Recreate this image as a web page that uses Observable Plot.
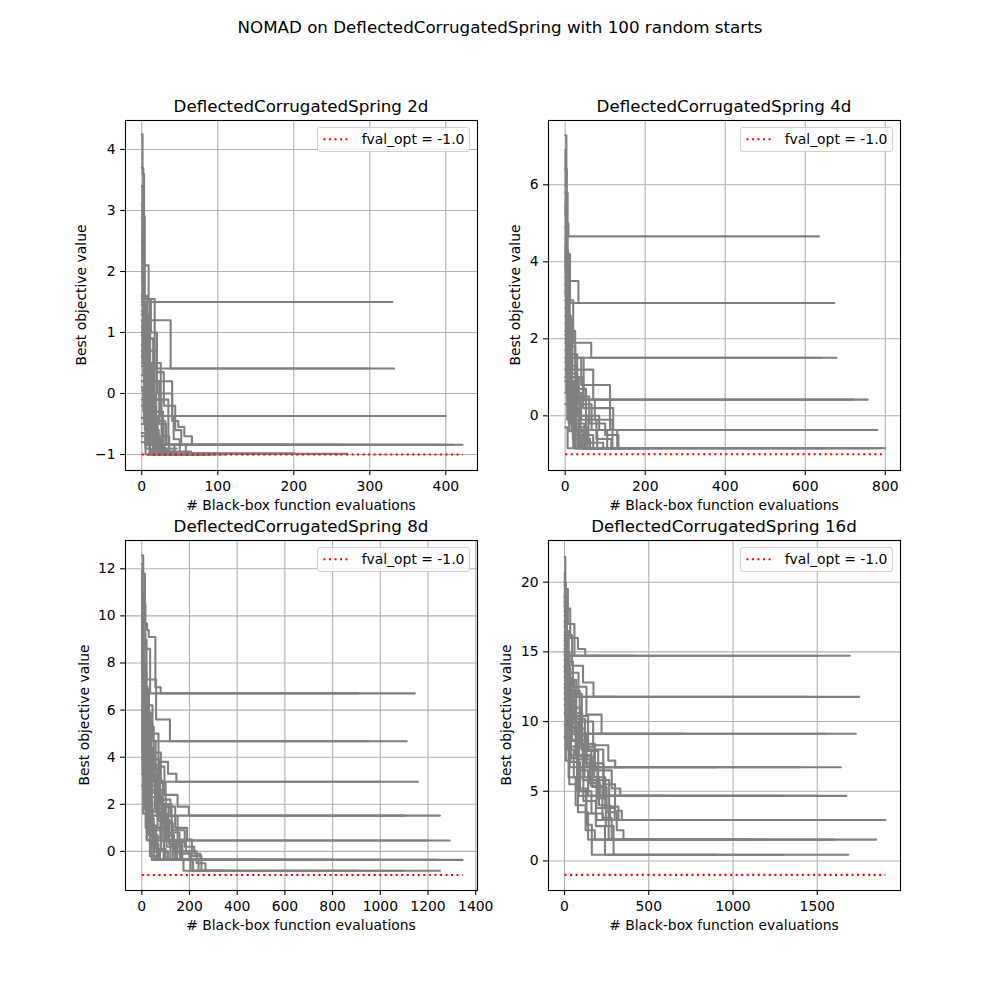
<!DOCTYPE html>
<html><head><meta charset="utf-8">
<script src="https://cdn.jsdelivr.net/npm/d3@7"></script>
<script src="https://cdn.jsdelivr.net/npm/@observablehq/plot@0.6"></script>
<style>
body{margin:0;background:#fff;font-family:"DejaVu Sans",sans-serif;}
#fig{position:relative;width:1000px;height:1000px;overflow:hidden;}
.abs{position:absolute;white-space:nowrap;color:#000;line-height:1;}
.legend{position:absolute;box-sizing:border-box;width:153px;height:25px;border:1px solid #d0d0d0;border-radius:3px;background:rgba(255,255,255,0.8);}
</style></head><body><div id="fig"></div>
<script>
// Best-so-far objective traces [evaluation, value]
const runs2d = [
 [[0,4.25],[1,3.6],[3,1.2],[6,0.2],[14,-0.84],[30,-1.0],[60,-1.0]],
 [[0,3.7],[2,2.1],[9,1.5],[330,1.5]],
 [[0,2.9],[4,1.55],[17,0.41],[332,0.41]],
 [[0,1.45],[5,1.2],[38,0.41],[300,0.41]],
 [[0,2.3],[3,1.1],[11,0.2],[40,-0.37],[400,-0.37]],
 [[0,0.95],[9,0.5],[25,-0.37],[350,-0.37]],
 [[0,1.6],[7,0.7],[20,0.0],[40,-0.45],[48,-0.55],[56,-0.7],[66,-0.84],[422,-0.84]],
 [[0,0.45],[13,-0.1],[35,-0.84],[410,-0.84]],
 [[0,-0.5],[8,-0.84],[390,-0.84]],
 [[0,1.3],[6,-0.2],[18,-0.84],[300,-0.84]],
 [[0,0.8],[4,-0.6],[22,-0.99],[270,-0.99]],
 [[0,1.5],[10,0.9],[16,-0.3],[28,-0.98],[200,-0.98]],
 [[0,2.0],[2,0.3],[7,-0.7],[24,-1.0],[90,-1.0]],
 [[0,-0.65],[5,-0.9],[12,-1.0],[55,-1.0]],
 [[0,1.1],[3,0.1],[9,-0.5],[19,-0.9],[33,-1.0],[80,-1.0]],
 [[0,0.6],[6,-0.3],[14,-0.75],[26,-1.0],[70,-1.0]],
 [[0,3.1],[1,1.5],[4,0.7],[10,-0.4],[21,-1.0],[75,-1.0]],
 [[0,-0.2],[7,-0.6],[15,-0.95],[45,-1.0],[95,-1.0]],
 [[0,1.55],[12,1.0],[20,0.35],[29,-0.2],[44,-0.6],[52,-0.84],[180,-0.84]],
 [[0,0.2],[11,-0.45],[31,-0.84],[43,-1.0],[110,-1.0]],
 [[0,-0.8],[10,-1.0],[40,-1.0]],
 [[0,1.0],[8,0.45],[17,-0.1],[26,-0.7],[36,-0.95],[65,-0.95]],
 [[0,2.5],[2,1.4],[5,0.5],[13,-0.3],[27,-0.84],[50,-1.0],[85,-1.0]],
 [[0,0.3],[3,-0.4],[9,-0.8],[17,-1.0],[62,-1.0]],
 [[0,-0.4],[6,-0.84],[20,-1.0],[50,-1.0]],
 [[0,1.35],[4,0.9],[15,0.2],[23,-0.5],[32,-0.84],[58,-0.98],[100,-0.98]],
 [[0,0.05],[12,-0.6],[22,-0.84],[200,-0.84]],
 [[0,3.4],[1,2.0],[3,1.3],[8,0.0],[16,-0.84],[28,-1.0],[78,-1.0]],
 [[0,-0.7],[5,-1.0],[35,-1.0]],
 [[0,0.7],[9,0.0],[19,-0.37],[42,-0.75],[50,-0.84],[260,-0.84]],
 [[0,0.1],[2,-0.3],[5,-0.84],[25,-0.84]],
 [[0,1.2],[1,0.5],[3,-0.1],[7,-0.6],[11,-1.0],[30,-1.0]],
 [[0,2.7],[1,1.8],[2,0.9],[6,-0.37],[14,-0.84],[38,-0.84]],
 [[0,0.5],[4,0.1],[8,-0.37],[18,-0.9],[46,-0.9]],
 [[0,1.9],[2,0.8],[5,0.0],[9,-0.6],[15,-1.0],[52,-1.0]],
 [[0,-0.1],[3,-0.5],[11,-0.84],[28,-0.84]]
];
const runs4d = [
 [[0,7.28],[3,5.0],[8,4.66],[634,4.66]],
 [[0,6.4],[4,4.2],[12,2.93],[673,2.93]],
 [[0,5.8],[6,3.5],[33,2.93],[600,2.93]],
 [[0,4.9],[5,3.0],[20,1.9],[65,1.51],[678,1.51]],
 [[0,3.6],[9,2.2],[25,1.51],[640,1.51]],
 [[0,4.3],[7,2.5],[18,1.2],[70,0.42],[756,0.42]],
 [[0,2.8],[10,1.5],[40,0.8],[112,0.42],[720,0.42]],
 [[0,3.9],[4,2.6],[14,1.0],[45,0.2],[120,-0.37],[780,-0.37]],
 [[0,2.1],[8,1.1],[30,0.0],[85,-0.37],[700,-0.37]],
 [[0,5.2],[3,3.2],[11,1.6],[30,0.5],[60,-0.2],[100,-0.5],[133,-0.84],[800,-0.84]],
 [[0,1.5],[6,0.4],[22,-0.3],[55,-0.84],[790,-0.84]],
 [[0,3.2],[5,1.8],[17,0.6],[40,-0.1],[78,-0.6],[115,-0.84],[760,-0.84]],
 [[0,0.9],[12,0.2],[35,-0.5],[70,-0.84],[650,-0.84]],
 [[0,2.4],[4,1.0],[13,0.3],[28,-0.4],[50,-0.84],[130,-0.84]],
 [[0,1.2],[9,-0.2],[24,-0.84],[110,-0.84]],
 [[0,4.6],[2,2.0],[8,0.9],[21,0.1],[37,-0.6],[62,-0.84],[150,-0.84]],
 [[0,0.3],[10,-0.4],[31,-0.84],[90,-0.84]],
 [[0,2.0],[7,0.7],[26,-0.2],[48,-0.84],[125,-0.84]],
 [[0,3.0],[3,1.4],[15,0.5],[36,-0.37],[80,-0.84],[160,-0.84]],
 [[0,1.7],[11,0.9],[29,0.0],[58,-0.7],[95,-0.84],[180,-0.84]],
 [[0,6.0],[2,4.0],[6,2.2],[16,1.0],[34,0.3],[66,-0.37],[105,-0.84],[200,-0.84]],
 [[0,0.6],[5,-0.1],[19,-0.6],[42,-0.84],[100,-0.84]],
 [[0,2.6],[8,1.3],[27,0.42],[74,-0.1],[118,-0.84],[210,-0.84]],
 [[0,1.0],[14,0.1],[38,-0.84],[95,-0.84]],
 [[0,3.4],[5,2.0],[12,1.51],[46,0.42],[90,0.42],[112,-0.37],[130,-0.84],[220,-0.84]],
 [[0,-0.3],[6,-0.84],[70,-0.84]],
 [[0,4.1],[4,3.0],[10,1.8],[25,0.7],[52,-0.84],[140,-0.84]],
 [[0,1.4],[3,0.6],[16,-0.37],[300,-0.37]],
 [[0,5.5],[1,3.8],[3,2.2],[7,1.0],[14,-0.2],[26,-0.84],[60,-0.84]],
 [[0,3.8],[2,2.4],[6,1.2],[12,0.3],[22,-0.5],[40,-0.84],[75,-0.84]],
 [[0,2.2],[3,1.2],[9,0.4],[18,-0.37],[44,-0.84],[88,-0.84]],
 [[0,4.4],[1,3.1],[4,1.7],[10,0.6],[20,-0.1],[34,-0.84],[66,-0.84]],
 [[0,1.9],[4,0.8],[11,-0.1],[20,-0.84],[48,-0.84]],
 [[0,6.9],[1,5.2],[3,3.4],[7,1.9],[13,0.8],[24,-0.37],[56,-0.84],[100,-0.84]]
];
const runs8d = [
 [[0,12.56],[6,11.8],[13,9.67],[22,9.4],[29,9.1],[57,6.97],[79,6.71],[1145,6.71]],
 [[0,12.2],[4,10.5],[15,8.6],[35,6.71],[910,6.71]],
 [[0,11.0],[6,9.0],[20,7.3],[60,5.6],[118,4.68],[1111,4.68]],
 [[0,9.8],[5,8.0],[18,6.2],[45,4.68],[950,4.68]],
 [[0,10.4],[3,8.8],[12,6.9],[30,5.0],[70,3.8],[110,3.3],[145,2.96],[1157,2.96]],
 [[0,8.6],[9,6.4],[28,4.2],[80,2.96],[1000,2.96]],
 [[0,9.2],[7,7.0],[24,5.3],[50,3.6],[95,2.4],[150,1.9],[197,1.52],[1250,1.52]],
 [[0,7.5],[10,5.8],[33,3.9],[72,2.2],[120,1.52],[1100,1.52]],
 [[0,8.1],[6,6.0],[21,4.4],[48,3.0],[88,1.9],[140,1.0],[190,0.46],[1291,0.46]],
 [[0,6.8],[8,5.2],[26,3.4],[64,1.6],[110,0.46],[1200,0.46]],
 [[0,10.0],[4,7.8],[14,5.9],[38,3.7],[76,2.0],[125,0.9],[180,0.2],[220,-0.1],[246,-0.36],[1345,-0.36]],
 [[0,5.9],[9,4.1],[30,2.5],[66,1.0],[104,0.2],[160,-0.36],[1240,-0.36]],
 [[0,7.0],[5,5.5],[17,3.8],[42,2.3],[85,1.2],[130,0.4],[185,0.0],[230,-0.5],[267,-0.82],[1250,-0.82]],
 [[0,6.2],[11,4.6],[34,2.8],[70,1.3],[115,0.3],[170,-0.36],[1000,-0.36]],
 [[0,9.5],[3,7.2],[10,5.0],[25,3.3],[55,1.8],[90,0.7],[135,0.0],[200,-0.36],[800,-0.36]],
 [[0,8.9],[7,6.6],[22,4.7],[58,2.9],[100,1.5],[150,0.5],[210,-0.2],[250,-0.82],[1100,-0.82]],
 [[0,4.8],[6,3.2],[20,1.8],[46,0.6],[92,-0.36],[700,-0.36]],
 [[0,11.6],[2,9.6],[8,7.6],[20,5.4],[40,3.5],[74,2.0],[112,0.8],[158,-0.1],[205,-0.82],[900,-0.82]],
 [[0,7.8],[9,5.7],[27,3.6],[60,1.9],[98,0.46],[148,-0.36],[600,-0.36]],
 [[0,5.3],[12,3.5],[36,1.7],[78,0.46],[130,-0.36],[500,-0.36]],
 [[0,6.5],[4,4.9],[16,3.0],[40,1.52],[82,0.46],[120,-0.36],[175,-0.82],[400,-0.82]],
 [[0,3.9],[8,2.4],[25,1.1],[60,0.1],[100,-0.36],[300,-0.36]],
 [[0,8.4],[5,6.3],[19,4.3],[44,2.6],[86,1.3],[126,0.46],[168,-0.36],[215,-0.82],[350,-0.82]],
 [[0,4.4],[7,2.9],[23,1.4],[50,0.46],[94,-0.36],[250,-0.36]],
 [[0,7.2],[10,5.0],[30,3.1],[62,1.52],[108,0.46],[165,-0.36],[238,-0.82],[320,-0.82]],
 [[0,2.8],[6,1.6],[22,0.46],[52,-0.36],[200,-0.36]],
 [[0,9.0],[5,6.8],[15,4.68],[35,2.96],[68,1.52],[102,0.46],[140,-0.36],[180,-0.36]],
 [[0,3.3],[9,2.0],[28,0.7],[66,-0.36],[140,-0.36]],
 [[0,10.8],[2,8.2],[6,5.6],[14,3.2],[30,1.2],[50,0.0],[76,-0.36],[150,-0.36]],
 [[0,8.0],[3,6.0],[8,3.8],[18,2.0],[38,0.6],[64,-0.36],[120,-0.36]],
 [[0,6.0],[2,4.2],[7,2.6],[16,1.0],[34,-0.2],[58,-0.36],[110,-0.36]],
 [[0,9.9],[2,7.5],[5,5.2],[12,3.0],[26,1.5],[46,0.3],[70,-0.36],[130,-0.36]],
 [[0,5.0],[3,3.4],[9,1.8],[20,0.5],[42,-0.36],[90,-0.36]],
 [[0,11.9],[1,9.0],[4,6.4],[10,4.0],[22,2.2],[44,0.9],[80,0.0],[110,-0.36],[160,-0.36]]
];
const runs16d = [
 [[0,21.8],[5,19.5],[20,17.0],[59,14.72],[1693,14.72]],
 [[0,20.0],[8,18.1],[34,16.0],[80,15.2],[123,14.72],[1500,14.72]],
 [[0,19.0],[6,16.5],[25,13.5],[83,11.77],[1749,11.77]],
 [[0,18.3],[10,16.2],[45,14.0],[110,12.8],[172,11.77],[1448,11.77]],
 [[0,17.6],[7,15.0],[30,12.0],[103,9.12],[1729,9.12]],
 [[0,16.8],[12,14.3],[50,12.5],[130,10.5],[220,9.12],[1550,9.12]],
 [[0,15.5],[9,13.0],[40,10.2],[100,8.0],[159,6.72],[1640,6.72]],
 [[0,17.2],[5,14.7],[28,12.2],[90,10.0],[170,8.3],[260,7.2],[301,6.72],[1400,6.72]],
 [[0,14.8],[11,12.0],[48,9.5],[120,7.0],[232,4.67],[1672,4.67]],
 [[0,16.0],[6,13.8],[35,11.0],[95,8.4],[180,6.5],[280,5.2],[331,4.67],[1500,4.67]],
 [[0,18.9],[4,16.0],[20,13.0],[70,10.4],[140,8.0],[230,5.5],[300,3.6],[340,2.94],[1905,2.94]],
 [[0,13.6],[10,11.2],[44,8.7],[118,6.0],[205,4.0],[270,2.94],[1700,2.94]],
 [[0,15.0],[7,12.6],[33,10.0],[86,7.5],[165,5.3],[250,3.5],[310,2.2],[350,1.53],[1850,1.53]],
 [[0,12.7],[9,10.8],[38,8.2],[108,5.8],[190,3.8],[262,1.53],[1600,1.53]],
 [[0,16.4],[5,14.0],[22,11.5],[64,9.0],[132,6.8],[195,4.5],[245,2.5],[291,0.45],[1684,0.45]],
 [[0,12.0],[8,10.0],[31,7.6],[76,5.0],[128,2.6],[162,0.45],[1300,0.45]],
 [[0,14.0],[6,12.0],[26,9.6],[72,7.3],[150,5.6],[210,4.67],[600,4.67]],
 [[0,11.2],[9,9.4],[36,7.1],[92,5.0],[160,3.4],[228,2.94],[800,2.94]],
 [[0,19.8],[3,17.4],[14,14.72],[420,14.72]],
 [[0,13.2],[12,11.0],[46,9.12],[700,9.12]],
 [[0,10.6],[7,8.8],[30,6.72],[900,6.72]],
 [[0,15.8],[10,13.1],[42,10.6],[105,8.2],[176,6.0],[242,3.8],[298,2.94],[400,2.94]],
 [[0,9.8],[6,8.0],[24,6.0],[66,4.0],[125,2.2],[180,1.53],[500,1.53]],
 [[0,17.9],[4,15.4],[18,12.9],[58,10.2],[122,7.9],[200,5.8],[265,3.9],[320,2.94],[1000,2.94]],
 [[0,8.9],[8,7.2],[28,5.5],[80,3.5],[140,1.53],[1100,1.53]],
 [[0,12.4],[5,10.4],[20,8.0],[55,6.0],[112,4.3],[186,2.5],[240,0.45],[900,0.45]],
 [[0,14.4],[7,12.2],[30,9.9],[82,7.6],[155,5.4],[225,3.1],[280,1.53],[1200,1.53]],
 [[0,11.6],[9,9.6],[35,7.4],[84,4.67],[1300,4.67]],
 [[0,20.6],[2,18.0],[8,16.0],[20,14.72],[200,14.72]],
 [[0,18.6],[3,16.4],[10,14.0],[30,12.2],[60,11.77],[300,11.77]],
 [[0,17.0],[4,14.8],[14,12.5],[38,10.4],[70,9.12],[250,9.12]],
 [[0,16.2],[3,13.9],[12,11.5],[32,9.3],[66,7.6],[110,6.72],[350,6.72]],
 [[0,15.2],[5,13.0],[16,10.8],[40,8.6],[80,6.5],[140,4.67],[450,4.67]],
 [[0,13.9],[4,11.8],[14,9.6],[36,7.4],[74,5.2],[130,3.4],[190,2.94],[380,2.94]]
];
const fvalOpt = -1.0;
const titles = ["DeflectedCorrugatedSpring 2d","DeflectedCorrugatedSpring 4d","DeflectedCorrugatedSpring 8d","DeflectedCorrugatedSpring 16d"];
const xTicks = [[0,100,200,300,400],[0,200,400,600,800],[0,200,400,600,800,1000,1200,1400],[0,500,1000,1500]];
const yTicks = [[-1,0,1,2,3,4],[0,2,4,6],[0,2,4,6,8,10,12],[0,5,10,15,20]];
const suptitle = "NOMAD on DeflectedCorrugatedSpring with 100 random starts";
const xLabel = "# Black-box function evaluations";
const yLabel = "Best objective value";
const legendLabel = "fval_opt = -1.0";

const panels = [
 {runs: runs2d, xd:[-21.4,441.7], yd:[-1.262,4.475], left:125, top:120, ylx:82},
 {runs: runs4d, xd:[-41.75,838], yd:[-1.42,7.67], left:548, top:120, ylx:516},
 {runs: runs8d, xd:[-68.3,1407.5], yd:[-1.66,13.2], left:125, top:540, ylx:85},
 {runs: runs16d, xd:[-95,1994], yd:[-2.12,22.99], left:548, top:540, ylx:507}
];

const fig = document.getElementById("fig");
function addText(txt, css){const d=document.createElement("div");d.className="abs";d.textContent=txt;Object.assign(d.style,css);fig.appendChild(d);return d;}

addText(suptitle,{left:"500px",top:"18.5px",fontSize:"16.7px",transform:"translateX(-50%)"});

const FW=352, FH=350, ML=60, MT=10, MR=10, MB=40;
const LW = 2.08;
panels.forEach((p,i)=>{
  const rows = p.runs.flatMap((r,k)=>r.map(([x,y])=>({run:k,x,y})));
  const maxX = d3.max(rows, d=>d.x);
  const opt = [{x:0,y:fvalOpt},{x:maxX,y:fvalOpt}];
  const chart = Plot.plot({
    width: FW+ML+MR, height: FH+MT+MB,
    marginLeft: ML, marginRight: MR, marginTop: MT, marginBottom: MB,
    x: {domain: p.xd, axis: null},
    y: {domain: p.yd, axis: null},
    style: {fontFamily:"DejaVu Sans", fontSize:"13.9px", color:"black", background:"transparent", overflow:"visible"},
    marks: [
      Plot.gridX(xTicks[i], {stroke:"#b0b0b0", strokeOpacity:1, strokeWidth:1.1}),
      Plot.gridY(yTicks[i], {stroke:"#b0b0b0", strokeOpacity:1, strokeWidth:1.1}),
      Plot.line(rows, {x:"x", y:"y", z:"run", stroke:"gray", strokeWidth:LW, curve:"step-after", clip:true}),
      Plot.line(opt, {x:"x", y:"y", stroke:"red", strokeWidth:LW, strokeDasharray:"2.08,3.44", strokeLinecap:"butt"}),
      Plot.frame({stroke:"black", strokeWidth:1.1}),
      Plot.axisX({ticks: xTicks[i], tickSize:4.9, tickPadding:5.5, strokeWidth:1.1, label:null, fontSize:13.9, tickFormat: d3.format("d")}),
      Plot.axisY({ticks: yTicks[i], tickSize:4.9, tickPadding:5, strokeWidth:1.1, label:null, fontSize:13.9, tickFormat: d=> d<0 ? "\u2212"+Math.abs(d) : String(d)})
    ]
  });
  const wrap = document.createElement("div");
  wrap.style.position="absolute"; wrap.style.left=(p.left-ML)+"px"; wrap.style.top=(p.top-MT)+"px";
  wrap.appendChild(chart); fig.appendChild(wrap);
  const cx = p.left + FW/2;
  addText(titles[i],{left:cx+"px",top:(p.top-22.4)+"px",fontSize:"16.7px",transform:"translateX(-50%)"});
  addText(xLabel,{left:cx+"px",top:(p.top+FH+28.5)+"px",fontSize:"13.9px",transform:"translateX(-50%)"});
  addText(yLabel,{left:p.ylx+"px",top:(p.top+FH/2)+"px",fontSize:"13.9px",transform:"translate(-50%,-50%) rotate(-90deg)"});
  // legend
  const lg = document.createElement("div"); lg.className="legend";
  lg.style.left=(p.left+FW-6.7-153)+"px"; lg.style.top=(p.top+7.3)+"px";
  lg.innerHTML = '<svg width="40" height="23" style="position:absolute;left:0;top:0"><line x1="5.4" x2="32.7" y1="11.2" y2="11.2" stroke="red" stroke-width="2.08" stroke-dasharray="2.08,3.44"/></svg>';
  const t = document.createElement("div"); t.className="abs"; t.textContent=legendLabel;
  Object.assign(t.style,{left:"43.4px",top:"4.6px",fontSize:"13.9px"});
  lg.appendChild(t); fig.appendChild(lg);
});
</script></body></html>
